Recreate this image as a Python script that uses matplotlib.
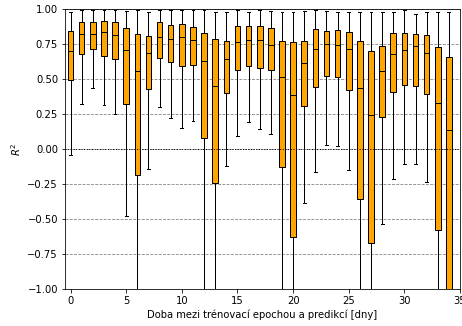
import matplotlib
matplotlib.use("Agg")
import matplotlib.pyplot as plt

# days between training epoch and prediction
days = list(range(35))

# box statistics (values below -1 are off-axis)
whis_lo = [-0.04, 0.324, 0.433, 0.312, 0.252, -0.479, -1.5, -0.143, 0.298, 0.224,
           0.152, 0.198, -1.5, -1.5, -0.121, 0.093, 0.19, 0.143, 0.105, -1.5,
           -1.5, -0.388, -0.162, 0.026, 0.024, -0.152, -1.5, -1.5, -0.533, -0.214,
           -0.107, -0.107, -0.233, -1.5, -2.0]
q1 = [0.49, 0.676, 0.714, 0.664, 0.643, 0.319, -0.186, 0.426, 0.652, 0.619,
      0.593, 0.602, 0.081, -0.245, 0.402, 0.564, 0.595, 0.576, 0.562, -0.131,
      -0.631, 0.305, 0.443, 0.519, 0.514, 0.421, -0.355, -0.674, 0.226, 0.41,
      0.455, 0.45, 0.39, -0.579, -1.2]
med = [0.70, 0.82, 0.824, 0.836, 0.816, 0.705, 0.557, 0.684, 0.802, 0.786,
       0.802, 0.779, 0.631, 0.452, 0.64, 0.762, 0.776, 0.779, 0.743, 0.512,
       0.386, 0.614, 0.717, 0.748, 0.74, 0.712, 0.436, 0.24, 0.56, 0.679,
       0.707, 0.733, 0.683, 0.331, 0.133]
q3 = [0.845, 0.91, 0.91, 0.914, 0.905, 0.862, 0.819, 0.807, 0.905, 0.888,
      0.89, 0.874, 0.826, 0.783, 0.769, 0.881, 0.876, 0.879, 0.862, 0.774,
      0.762, 0.769, 0.855, 0.845, 0.852, 0.833, 0.774, 0.702, 0.733, 0.826,
      0.829, 0.824, 0.817, 0.726, 0.655]
whis_hi = [0.976, 0.993, 0.99, 0.99, 0.99, 0.986, 0.99, 0.976, 0.993, 0.993,
           0.993, 0.993, 0.993, 0.976, 0.981, 0.993, 0.976, 0.993, 0.986, 0.976,
           0.976, 0.984, 0.993, 0.984, 0.976, 0.976, 0.981, 0.976, 0.981, 0.981,
           0.99, 0.967, 0.981, 0.981, 0.981]

stats = []
for i in range(len(days)):
    stats.append({
        "whislo": whis_lo[i], "q1": q1[i], "med": med[i],
        "q3": q3[i], "whishi": whis_hi[i], "fliers": [],
    })

fig = plt.figure(figsize=(462 / 72, 326 / 72), dpi=72)
ax = fig.add_axes([0.1407, 0.1135, 0.855, 0.8589])

ax.bxp(stats, positions=days, widths=0.5, patch_artist=True,
       boxprops=dict(facecolor="orange", edgecolor="black"),
       medianprops=dict(color="black"),
       whiskerprops=dict(color="black"),
       capprops=dict(color="black"))

ax.yaxis.grid(True, linestyle="--", color="gray")
ax.axhline(0, linestyle=":", color="black", linewidth=1)
ax.set_ylim(-1, 1)
ax.set_xlim(-0.5, 35)
ax.set_xticks(range(0, 36, 5))
ax.set_xticklabels([str(t) for t in range(0, 36, 5)])

ax.set_xlabel("Doba mezi trénovací epochou a predikcí [dny]")
ax.set_ylabel("$R^2$")

fig.savefig("out.png", dpi=72)
